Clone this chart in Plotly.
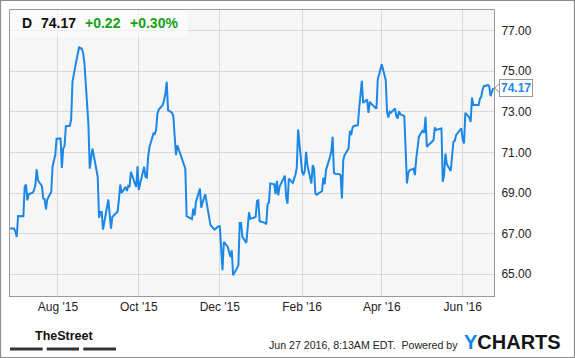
import plotly.graph_objects as go

# ---------------- data ----------------
dates = [
    "2015-06-26", "2015-06-29", "2015-06-30", "2015-07-01", "2015-07-02", "2015-07-06", "2015-07-07",
    "2015-07-08", "2015-07-09", "2015-07-10", "2015-07-13", "2015-07-14", "2015-07-15", "2015-07-16",
    "2015-07-17", "2015-07-20", "2015-07-21", "2015-07-22", "2015-07-23", "2015-07-24", "2015-07-27",
    "2015-07-28", "2015-07-29", "2015-07-30", "2015-07-31", "2015-08-03", "2015-08-04", "2015-08-05",
    "2015-08-06", "2015-08-07", "2015-08-10", "2015-08-11", "2015-08-12", "2015-08-13", "2015-08-14",
    "2015-08-17", "2015-08-18", "2015-08-19", "2015-08-20", "2015-08-21", "2015-08-24", "2015-08-25",
    "2015-08-26", "2015-08-27", "2015-08-28", "2015-08-31", "2015-09-01", "2015-09-02", "2015-09-03",
    "2015-09-04", "2015-09-08", "2015-09-09", "2015-09-10", "2015-09-11", "2015-09-14", "2015-09-15",
    "2015-09-16", "2015-09-17", "2015-09-18", "2015-09-21", "2015-09-22", "2015-09-23", "2015-09-24",
    "2015-09-25", "2015-09-28", "2015-09-29", "2015-09-30", "2015-10-01", "2015-10-02", "2015-10-05",
    "2015-10-06", "2015-10-07", "2015-10-08", "2015-10-09", "2015-10-12", "2015-10-13", "2015-10-14",
    "2015-10-15", "2015-10-16", "2015-10-19", "2015-10-20", "2015-10-21", "2015-10-22", "2015-10-23",
    "2015-10-26", "2015-10-27", "2015-10-28", "2015-10-29", "2015-10-30", "2015-11-02", "2015-11-03",
    "2015-11-04", "2015-11-05", "2015-11-06", "2015-11-09", "2015-11-10", "2015-11-11", "2015-11-12",
    "2015-11-13", "2015-11-16", "2015-11-17", "2015-11-18", "2015-11-19", "2015-11-20", "2015-11-23",
    "2015-11-24", "2015-11-25", "2015-11-27", "2015-11-30", "2015-12-01", "2015-12-02", "2015-12-03",
    "2015-12-04", "2015-12-07", "2015-12-08", "2015-12-09", "2015-12-10", "2015-12-11", "2015-12-14",
    "2015-12-15", "2015-12-16", "2015-12-17", "2015-12-18", "2015-12-21", "2015-12-22", "2015-12-23",
    "2015-12-24", "2015-12-28", "2015-12-29", "2015-12-30", "2015-12-31", "2016-01-04", "2016-01-05",
    "2016-01-06", "2016-01-07", "2016-01-08", "2016-01-11", "2016-01-12", "2016-01-13", "2016-01-14",
    "2016-01-15", "2016-01-19", "2016-01-20", "2016-01-21", "2016-01-22", "2016-01-25", "2016-01-26",
    "2016-01-27", "2016-01-28", "2016-01-29", "2016-02-01", "2016-02-02", "2016-02-03", "2016-02-04",
    "2016-02-05", "2016-02-08", "2016-02-09", "2016-02-10", "2016-02-11", "2016-02-12", "2016-02-16",
    "2016-02-17", "2016-02-18", "2016-02-19", "2016-02-22", "2016-02-23", "2016-02-24", "2016-02-25",
    "2016-02-26", "2016-02-29", "2016-03-01", "2016-03-02", "2016-03-03", "2016-03-04", "2016-03-07",
    "2016-03-08", "2016-03-09", "2016-03-10", "2016-03-11", "2016-03-14", "2016-03-15", "2016-03-16",
    "2016-03-17", "2016-03-18", "2016-03-21", "2016-03-22", "2016-03-23", "2016-03-24", "2016-03-28",
    "2016-03-29", "2016-03-30", "2016-03-31", "2016-04-01", "2016-04-04", "2016-04-05", "2016-04-06",
    "2016-04-07", "2016-04-08", "2016-04-11", "2016-04-12", "2016-04-13", "2016-04-14", "2016-04-15",
    "2016-04-18", "2016-04-19", "2016-04-20", "2016-04-21", "2016-04-22", "2016-04-25", "2016-04-26",
    "2016-04-27", "2016-04-28", "2016-04-29", "2016-05-02", "2016-05-03", "2016-05-04", "2016-05-05",
    "2016-05-06", "2016-05-09", "2016-05-10", "2016-05-11", "2016-05-12", "2016-05-13", "2016-05-16",
    "2016-05-17", "2016-05-18", "2016-05-19", "2016-05-20", "2016-05-23", "2016-05-24", "2016-05-25",
    "2016-05-26", "2016-05-27", "2016-05-31", "2016-06-01", "2016-06-02", "2016-06-03", "2016-06-06",
    "2016-06-07", "2016-06-08", "2016-06-09", "2016-06-10", "2016-06-13", "2016-06-14", "2016-06-15",
    "2016-06-16", "2016-06-17", "2016-06-20", "2016-06-21", "2016-06-22", "2016-06-23", "2016-06-24",
]
prices = [
    67.25, 67.25, 67.10, 66.84, 67.87, 67.86, 69.33,
    69.42, 68.64, 68.94, 69.02, 69.14, 69.38, 70.16,
    69.63, 69.33, 68.73, 68.70, 68.20, 68.68, 69.06,
    70.30, 70.60, 70.86, 71.67, 71.68, 70.24, 71.19,
    71.30, 72.29, 72.31, 72.62, 74.47, 74.97, 75.20,
    76.20, 76.12, 76.12, 75.90, 75.38, 72.37, 70.20,
    70.80, 71.19, 70.86, 69.80, 67.78, 68.07, 68.07,
    67.20, 68.68, 68.10, 67.25, 67.82, 67.99, 68.09,
    68.70, 69.42, 69.00, 69.30, 69.10, 69.35, 69.30,
    70.04, 69.47, 69.30, 70.32, 69.14, 69.47, 70.29,
    69.80, 69.76, 70.78, 71.27, 71.93, 71.90, 72.10,
    72.91, 73.11, 73.33, 73.57, 73.90, 74.47, 73.08,
    72.95, 72.78, 71.77, 70.86, 71.35, 70.75, 70.62,
    70.40, 70.20, 67.86, 67.74, 67.71, 68.23, 67.90,
    68.56, 69.22, 68.28, 68.60, 68.75, 68.94, 67.60,
    67.41, 67.35, 67.20, 67.37, 67.37, 66.30, 65.20,
    66.59, 66.35, 66.10, 65.85, 66.18, 64.95, 65.30,
    65.45, 67.53, 67.53, 66.84, 66.54, 67.30, 68.05,
    67.74, 67.82, 68.61, 68.64, 67.61, 67.53, 67.46,
    68.45, 68.53, 69.47, 69.43, 68.94, 69.60, 68.89,
    69.30, 69.86, 68.78, 68.48, 69.71, 69.50, 69.71,
    69.90, 70.25, 72.13, 70.04, 69.88, 70.12, 71.03,
    70.37, 69.47, 70.37, 70.20, 68.97, 68.92, 69.10,
    69.76, 69.43, 70.12, 70.78, 71.03, 71.77, 69.99,
    69.95, 69.93, 69.88, 68.73, 70.62, 70.86, 71.19,
    72.06, 71.85, 72.23, 72.30, 72.34, 73.16, 73.90,
    74.52, 73.44, 73.60, 72.94, 73.49, 73.40, 73.15,
    74.59, 74.89, 75.10, 75.34, 74.56, 73.00, 72.72,
    73.00, 72.95, 73.16, 72.78, 72.67, 73.03, 72.88,
    72.78, 70.94, 69.47, 69.99, 70.12, 70.20, 69.88,
    70.70, 71.44, 71.77, 72.10, 71.96, 72.75, 71.27,
    71.35, 71.52, 71.60, 72.23, 72.10, 72.13, 72.18,
    69.55, 69.90, 70.94, 70.42, 70.09, 70.86, 71.52,
    71.57, 71.85, 72.18, 71.63, 71.44, 72.95, 72.72,
    72.50, 73.70, 73.33, 73.33, 73.33, 73.65, 73.74,
    74.10, 74.26, 74.31, 74.26, 73.77, 73.95, 74.17,
]

y_ticks = [65, 67, 69, 71, 73, 75, 77]
x_tick_dates = ["2015-08-01", "2015-10-01", "2015-12-01", "2016-02-01", "2016-04-01", "2016-06-01"]
x_tick_labels = ["Aug '15", "Oct '15", "Dec '15", "Feb '16", "Apr '16", "Jun '16"]

ticker = "D"
last_price = 74.17
change = 0.22
change_pct = 0.30
timestamp_text = "Jun 27 2016, 8:13AM EDT.  Powered by"

# ---------------- layout helpers ----------------
W, H = 575, 358
L, R, T, B = 10, 494, 10, 296  # plot box in pixels


def px(x):
    return (x - L) / (R - L)


def py(y):
    return (B - y) / (B - T)


FONT = "Arial, 'Liberation Sans', sans-serif"
BLUE = "#1b87e6"
GREEN = "#17a217"

fig = go.Figure()
fig.add_trace(go.Scatter(
    x=dates, y=prices, mode="lines",
    line=dict(color=BLUE, width=2),
    hoverinfo="skip", showlegend=False,
))

shapes = []
# outer frame
shapes.append(dict(type="rect", xref="paper", yref="paper",
                   x0=px(0.5), x1=px(574.5), y0=py(357.5), y1=py(0.5),
                   line=dict(color="#8c8c8c", width=1.2), fillcolor="rgba(0,0,0,0)", layer="above"))
# header box (semi transparent)
shapes.append(dict(type="rect", xref="paper", yref="paper",
                   x0=px(10.5), x1=px(188), y0=py(37), y1=py(10.5),
                   line=dict(width=0), fillcolor="rgba(255,255,255,0.55)", layer="above"))
# TheStreet bars
for a, b in [(10, 42.7), (46.7, 79), (83.3, 116)]:
    shapes.append(dict(type="rect", xref="paper", yref="paper",
                       x0=px(a), x1=px(b), y0=py(350.5), y1=py(347.5),
                       line=dict(width=0), fillcolor="#333333"))
# arrow of the price flag
shapes.append(dict(type="path", xref="paper", yref="y",
                   path=f"M {px(495)} {last_price} L {px(499.5)} {last_price + 0.24} "
                        f"L {px(499.5)} {last_price - 0.24} Z",
                   line=dict(color="#999999", width=1), fillcolor="white", layer="above"))

annotations = []
head_y = py(23.5)
annotations.append(dict(xref="paper", yref="paper", x=px(20), y=head_y, xanchor="left", yanchor="middle",
                        text=f"<b>{ticker}</b>", showarrow=False,
                        font=dict(family=FONT, size=14, color="#111111")))
annotations.append(dict(xref="paper", yref="paper", x=px(38.5), y=head_y, xanchor="left", yanchor="middle",
                        text=f"<b>{last_price:.2f}</b>", showarrow=False,
                        font=dict(family=FONT, size=14, color="#111111")))
annotations.append(dict(xref="paper", yref="paper", x=px(82.5), y=head_y, xanchor="left", yanchor="middle",
                        text=f"<b>+{change:.2f}</b>", showarrow=False,
                        font=dict(family=FONT, size=14, color=GREEN)))
annotations.append(dict(xref="paper", yref="paper", x=px(127.5), y=head_y, xanchor="left", yanchor="middle",
                        text=f"<b>+{change_pct:.2f}%</b>", showarrow=False,
                        font=dict(family=FONT, size=14, color=GREEN)))
# price flag
annotations.append(dict(xref="paper", yref="y", x=px(499), y=last_price, xanchor="left", yanchor="middle",
                        text=f"<b>{last_price:.2f}</b>", showarrow=False,
                        bgcolor="white", bordercolor="#999999", borderwidth=1, borderpad=1,
                        font=dict(family=FONT, size=12, color=BLUE)))
# footer
annotations.append(dict(xref="paper", yref="paper", x=px(63.5), y=py(336), xanchor="center", yanchor="middle",
                        text="<b>TheStreet</b>", showarrow=False,
                        font=dict(family=FONT, size=12.5, color="#111111")))
annotations.append(dict(xref="paper", yref="paper", x=px(460), y=py(345), xanchor="right", yanchor="middle",
                        text=timestamp_text, showarrow=False,
                        font=dict(family=FONT, size=10.6, color="#222222")))
annotations.append(dict(xref="paper", yref="paper", x=px(462), y=py(341.5), xanchor="left", yanchor="middle",
                        text="<b><span style='color:#0a86e0'>Y</span>CHARTS</b>", showarrow=False,
                        font=dict(family=FONT, size=20, color="#151515")))

fig.update_layout(
    width=W, height=H,
    margin=dict(l=L, r=W - R, t=T, b=H - B, pad=0),
    paper_bgcolor="white",
    plot_bgcolor="#f6f6f6",
    showlegend=False,
    shapes=shapes,
    annotations=annotations,
    xaxis=dict(
        type="date",
        range=["2015-06-25 22:00", "2016-06-24 14:00"],
        tickvals=x_tick_dates, ticktext=x_tick_labels,
        showgrid=True, gridcolor="#d9d9d9", gridwidth=1,
        showline=True, mirror=True, linecolor="#9a9a9a", linewidth=1,
        ticks="", zeroline=False,
        tickfont=dict(family=FONT, size=12, color="#222222"),
    ),
    yaxis=dict(
        side="right",
        range=[63.93, 78.01],
        tickvals=y_ticks, tickformat=".2f",
        showgrid=True, gridcolor="#d9d9d9", gridwidth=1,
        showline=True, mirror=True, linecolor="#9a9a9a", linewidth=1,
        ticks="", zeroline=False,
        ticklabelstandoff=4,
        tickfont=dict(family=FONT, size=12, color="#222222"),
    ),
)

fig.write_html("out.html")
